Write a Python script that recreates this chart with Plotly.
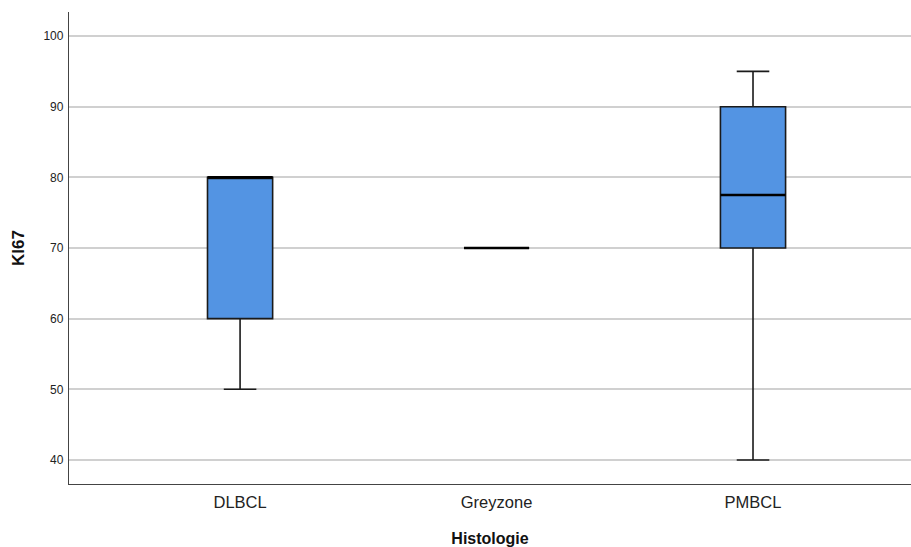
import plotly.graph_objects as go

# KI67 distribution per histology group (five-number summaries)
categories = ["DLBCL", "Greyzone", "PMBCL"]
q1 = [60, 70, 70]
median = [80, 70, 77.5]
q3 = [80, 70, 90]
lower_whisker = [50, 70, 40]
upper_whisker = [80, 70, 95]
y_ticks = [40, 50, 60, 70, 80, 90, 100]

BOX_WIDTH = 0.254
FILL = "#5394E3"
EDGE = "#1a1a1a"
FONT = "Liberation Sans, Arial, sans-serif"

fig = go.Figure()
for i, cat in enumerate(categories):
    fig.add_trace(go.Box(
        x=[i], q1=[q1[i]], median=[median[i]], q3=[q3[i]],
        lowerfence=[lower_whisker[i]], upperfence=[upper_whisker[i]],
        width=BOX_WIDTH, whiskerwidth=0.5,
        fillcolor=FILL, line=dict(color=EDGE, width=1.6),
        boxpoints=False, showlegend=False, hoverinfo="skip", name=cat,
    ))
    # heavier median bar drawn over the box
    fig.add_trace(go.Scatter(
        x=[i - BOX_WIDTH / 2, i + BOX_WIDTH / 2], y=[median[i], median[i]],
        mode="lines", line=dict(color="#000000", width=2.6),
        showlegend=False, hoverinfo="skip",
    ))

fig.update_layout(
    width=911, height=547,
    margin=dict(l=69, r=0, t=12, b=63),
    paper_bgcolor="white", plot_bgcolor="white",
    font=dict(family=FONT, color="#222"),
    xaxis=dict(
        range=[-0.667, 2.616], tickmode="array",
        tickvals=list(range(len(categories))), ticktext=categories,
        showgrid=False, zeroline=False, showline=True,
        linecolor="#444", linewidth=1.3, ticks="",
        ticklabelstandoff=3,
        tickfont=dict(size=16.5, color="#222"),
        title=dict(text="<b>Histologie</b>", font=dict(size=16, color="#111"), standoff=24),
    ),
    yaxis=dict(
        range=[36.6, 103.4], tickmode="array", tickvals=y_ticks,
        showgrid=True, gridcolor="#d0d0d0", gridwidth=1.5,
        zeroline=False, showline=True, linecolor="#444", linewidth=1.3,
        ticks="", ticklabelstandoff=2, tickfont=dict(size=12, color="#222"),
        title=dict(text="<b>KI67</b>", font=dict(size=17, color="#111"), standoff=14),
    ),
)

fig.write_html("out.html")
